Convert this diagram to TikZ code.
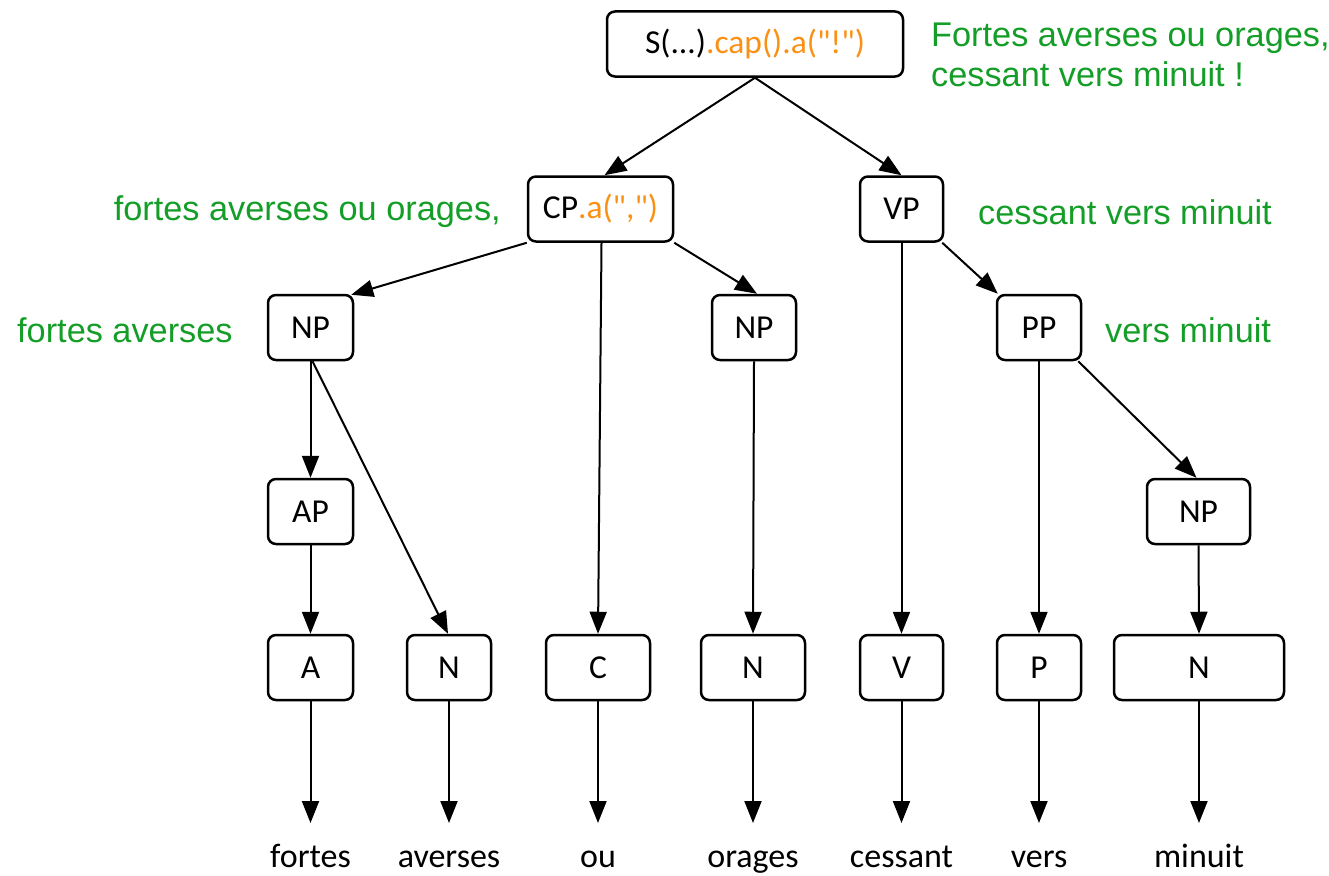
\documentclass[tikz,border=0pt]{standalone}
\usepackage{fontspec}
\setmainfont{Carlito}[Ligatures=TeXOff]
\newfontfamily\greenfont{Liberation Sans}
\usetikzlibrary{arrows.meta,shadows}
\definecolor{labgreen}{RGB}{20,158,40}
\definecolor{methorange}{RGB}{250,145,20}
\tikzset{
  tbox/.style={draw=black, line width=2.5pt, rounded corners=8pt, fill=white,
    minimum height=65pt, inner sep=0pt, font=\fontsize{33.5}{38}\selectfont,
    drop shadow={opacity=0.25, shadow xshift=1pt, shadow yshift=-1pt}},
  edge/.style={line width=2pt, -{Triangle[length=22pt,width=17pt]}},
  word/.style={anchor=base, inner sep=0pt, font=\fontsize{34}{38}\selectfont},
  glab/.style={inner sep=0pt, text=labgreen, font=\greenfont\fontsize{34.3}{40}\selectfont},
  meth/.style={text=methorange}
}
\begin{document}
\begin{tikzpicture}[x=1pt,y=-1pt]
\useasboundingbox (0,0) rectangle (1329,875);
% nodes
\node[tbox, minimum width=296pt] (s) at (755,44) {S(...)\textcolor{methorange}{.cap().a("!")}};
\node[tbox, minimum width=145pt] (cp) at (600.5,209) {CP\textcolor{methorange}{.a(",")}};
\node[tbox, minimum width=83pt] (vp) at (901.5,209) {VP};
\node[tbox, minimum width=85pt] (np1) at (310.5,327.5) {NP};
\node[tbox, minimum width=84pt] (np2) at (754,327.5) {NP};
\node[tbox, minimum width=84pt] (pp) at (1039,327.5) {PP};
\node[tbox, minimum width=85pt] (ap) at (310.5,511.5) {AP};
\node[tbox, minimum width=103pt] (np3) at (1198.5,511.5) {NP};
\node[tbox, minimum width=85pt] (a) at (310.5,667.5) {A};
\node[tbox, minimum width=84pt] (n1) at (449,667.5) {N};
\node[tbox, minimum width=104pt] (c) at (598,667.5) {C};
\node[tbox, minimum width=104pt] (n2) at (753,667.5) {N};
\node[tbox, minimum width=83pt] (v) at (901.5,667.5) {V};
\node[tbox, minimum width=84pt] (p) at (1039,667.5) {P};
\node[tbox, minimum width=170pt] (n3) at (1199,667.5) {N};
% words
\node[word] (wa) at (310.5,867) {fortes};
\node[word] (wn1) at (449,867) {averses};
\node[word] (wc) at (598,867) {ou};
\node[word] (wn2) at (753,867) {orages};
\node[word] (wv) at (901.5,867) {cessant};
\node[word] (wp) at (1039,867) {vers};
\node[word] (wn3) at (1199,867) {minuit};
\coordinate (ta) at (310.5,823);
\coordinate (tn1) at (449,823);
\coordinate (tc) at (598,823);
\coordinate (tn2) at (753,823);
\coordinate (tv) at (901.5,823);
\coordinate (tp) at (1039,823);
\coordinate (tn3) at (1199,823);
% green labels
\node[glab, anchor=base west] (l0a) at (931,46) {Fortes averses ou orages,};
\node[glab, anchor=base west] (l0b) at (931,86) {cessant vers minuit !};
\node[glab, anchor=east] (l1) at (501,212) {fortes averses ou orages,};
\node[glab, anchor=west] (l2) at (978,212) {cessant vers minuit};
\node[glab, anchor=west] (l3) at (17,330) {fortes averses};
\node[glab, anchor=west] (l4) at (1105,330) {vers minuit};
% edges
\draw[edge] (s.south) -- ([xshift=4pt]cp.north);
\draw[edge] (s.south) -- (vp.north);
\draw[edge] (cp.south west) -- ([xshift=-3pt,yshift=-1pt]np1.north east);
\draw[edge] ([xshift=1pt]cp.south) -- (c.north);
\draw[edge] (cp.south east) -- ([xshift=3pt]np2.north);
\draw[edge] (vp.south) -- (v.north);
\draw[edge] ([xshift=-2pt]vp.south east) -- ([xshift=2pt]pp.north west);
\draw[edge] (np1.south) -- (ap.north);
\draw[edge] ([xshift=2pt]np1.south) -- ([xshift=-1pt]n1.north);
\draw[edge] (np2.south) -- (n2.north);
\draw[edge] (pp.south) -- (p.north);
\draw[edge] ([xshift=-4pt]pp.south east) -- ([xshift=-2pt]np3.north);
\draw[edge] (ap.south) -- (a.north);
\draw[edge] (np3.south) -- (n3.north);
\draw[edge] (a.south) -- (ta);
\draw[edge] (n1.south) -- (tn1);
\draw[edge] (c.south) -- (tc);
\draw[edge] (n2.south) -- (tn2);
\draw[edge] (v.south) -- (tv);
\draw[edge] (p.south) -- (tp);
\draw[edge] (n3.south) -- (tn3);
\end{tikzpicture}
\end{document}
